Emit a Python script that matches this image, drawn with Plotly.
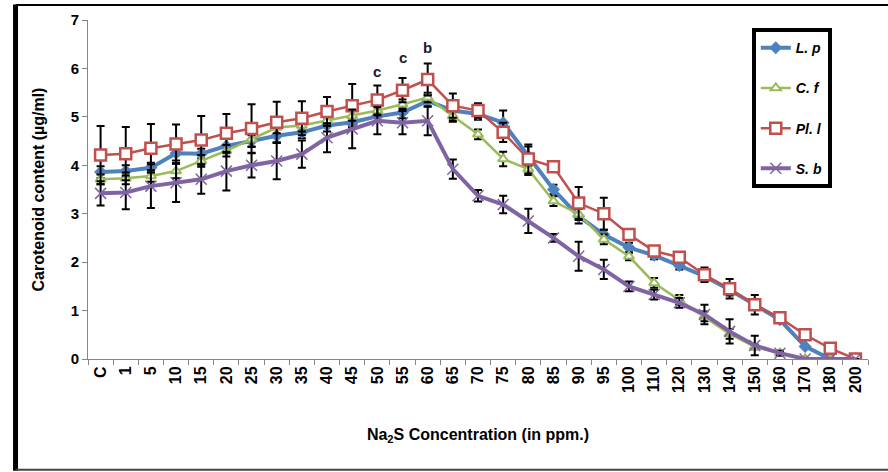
import plotly.graph_objects as go

categories = ["C", "1", "5", "10", "15", "20", "25", "30", "35", "40", "45", "50", "55", "60",
              "65", "70", "75", "80", "85", "90", "95", "100", "110", "120", "130", "140",
              "150", "160", "170", "180", "200"]

lp = [3.86, 3.88, 3.95, 4.25, 4.24, 4.40, 4.50, 4.61, 4.68, 4.82, 4.89, 5.01, 5.09, 5.33,
      5.13, 5.06, 4.88, 4.19, 3.50, 2.95, 2.57, 2.30, 2.14, 1.93, 1.71, 1.43, 1.12, 0.81,
      0.26, 0.0, 0.0]
cf = [3.71, 3.73, 3.78, 3.88, 4.09, 4.30, 4.54, 4.78, 4.82, 4.92, 5.02, 5.13, 5.26, 5.40,
      5.02, 4.64, 4.13, 3.92, 3.26, 2.99, 2.47, 2.12, 1.57, 1.22, 0.88, 0.52, 0.25, 0.12,
      0.0, 0.0, 0.0]
pl = [4.21, 4.24, 4.35, 4.44, 4.52, 4.66, 4.76, 4.89, 4.97, 5.11, 5.23, 5.35, 5.55, 5.77,
      5.23, 5.13, 4.68, 4.13, 3.97, 3.22, 3.00, 2.57, 2.23, 2.10, 1.74, 1.45, 1.12, 0.85,
      0.50, 0.22, 0.0]
sb = [3.42, 3.44, 3.57, 3.64, 3.71, 3.88, 4.00, 4.09, 4.23, 4.57, 4.75, 4.92, 4.88, 4.92,
      3.92, 3.37, 3.19, 2.85, 2.50, 2.12, 1.85, 1.50, 1.33, 1.16, 0.92, 0.57, 0.28, 0.12,
      0.0, 0.0, 0.0]

lp_err = [0.12, 0.12, 0.1, 0.15, 0.1, 0.15, 0.12, 0.15, 0.12, 0.12, 0.1, 0.1, 0.12, 0.12,
          0.2, 0.12, 0.25, 0.2, 0.1, 0.15, 0.1, 0.1, 0.08, 0.08, 0.1, 0.12, 0.1, 0.05,
          0.0, 0.0, 0.0]
cf_err = [0.1, 0.12, 0.12, 0.15, 0.12, 0.12, 0.15, 0.12, 0.12, 0.1, 0.1, 0.1, 0.1, 0.1,
          0.12, 0.1, 0.15, 0.12, 0.1, 0.12, 0.1, 0.08, 0.1, 0.1, 0.1, 0.1, 0.05, 0.05,
          0.0, 0.0, 0.0]
pl_err = [0.6, 0.55, 0.5, 0.4, 0.5, 0.4, 0.5, 0.42, 0.35, 0.3, 0.45, 0.3, 0.25, 0.33,
          0.25, 0.15, 0.2, 0.3, 0.1, 0.33, 0.33, 0.1, 0.1, 0.1, 0.15, 0.2, 0.2, 0.05,
          0.0, 0.0, 0.0]
sb_err = [0.25, 0.35, 0.45, 0.4, 0.3, 0.4, 0.25, 0.38, 0.28, 0.3, 0.4, 0.28, 0.24, 0.3,
          0.2, 0.12, 0.18, 0.25, 0.08, 0.3, 0.2, 0.1, 0.1, 0.1, 0.2, 0.25, 0.2, 0.05,
          0.0, 0.0, 0.0]

labels_marks = ["c", "c", "b"]
labels_at = ["50", "55", "60"]
labels_y = [5.93, 6.22, 6.43]

series = [
    ("L. p", lp, lp_err, "#4F81BD", dict(symbol="diamond", size=10, color="#4F81BD"), 4),
    ("C. f", cf, cf_err, "#9BBB59", dict(symbol="triangle-up", size=9, color="white",
                                         line=dict(color="#9BBB59", width=2)), 2.5),
    ("Pl. l", pl, pl_err, "#C0504D", dict(symbol="square", size=11, color="white",
                                          line=dict(color="#C0504D", width=2.5)), 2.5),
    ("S. b", sb, sb_err, "#8064A2", dict(symbol="x-thin", size=11,
                                         line=dict(color="#8064A2", width=1.5)), 4),
]

fig = go.Figure()
for i, (name, vals, errs, col, mk, lw) in enumerate(series):
    fig.add_trace(go.Scatter(
        x=categories, y=vals, name=f"<b><i>{name}</i></b>", mode="lines+markers",
        line=dict(color=col, width=lw), marker=mk,
        error_y=dict(type="data", array=errs, visible=True, color="black",
                     thickness=2, width=4),
        legendgroup=f"g{i}",
    ))

for m, xa, ya in zip(labels_marks, labels_at, labels_y):
    fig.add_annotation(x=categories.index(xa), y=ya, text=f"<b>{m}</b>", showarrow=False,
                       font=dict(size=15, color="#1a1a2e", family="Liberation Sans"))

# outer frame
fig.add_shape(type="line", xref="paper", yref="paper", x0=-0.0929, x1=-0.0929,
              y0=-0.33, y1=1.046, line=dict(color="black", width=5))
fig.add_shape(type="line", xref="paper", yref="paper", x0=-0.0929, x1=1.03,
              y0=1.0442, y1=1.0442, line=dict(color="black", width=2))
fig.add_shape(type="line", xref="paper", yref="paper", x0=-0.0929, x1=1.03,
              y0=-0.327, y1=-0.327, line=dict(color="#444444", width=2))

fig.update_layout(
    width=888, height=472,
    margin=dict(l=88, r=20, t=20, b=113),
    paper_bgcolor="white", plot_bgcolor="white",
    font=dict(family="Liberation Sans", color="black"),
    showlegend=True,
    legend=dict(x=0.851, y=0.976, xanchor="left", yanchor="top",
                bordercolor="black", borderwidth=4, bgcolor="white",
                font=dict(size=14, family="Liberation Sans", color="black"),
                traceorder="grouped", tracegroupgap=19),
    xaxis=dict(type="category", range=[-0.5, len(categories) - 0.5],
               tickmode="array", tickvals=categories, ticktext=categories,
               showline=True, linecolor="#868686", linewidth=1,
               ticks="outside", tickson="boundaries", ticklen=5, tickcolor="#868686",
               tickangle=-90, showgrid=False, zeroline=False,
               tickfont=dict(size=16, family="Liberation Sans", color="black", weight="bold"),
               title=dict(text="Na<sub>2</sub>S Concentration (in ppm.)",
                          font=dict(size=16, family="Liberation Sans Narrow, Liberation Sans",
                                    weight="bold"), standoff=36)),
    yaxis=dict(range=[0, 7], dtick=1, showline=True, linecolor="#868686", linewidth=1,
               ticks="outside", ticklen=5, tickcolor="#868686", showgrid=False,
               zeroline=False,
               tickfont=dict(size=15, family="Liberation Sans", color="black", weight="bold"),
               title=dict(text="Carotenoid content (µg/ml)",
                          font=dict(size=16, family="Liberation Sans Narrow, Liberation Sans",
                                    weight="bold"), standoff=22)),
)

fig.write_html("out.html")
